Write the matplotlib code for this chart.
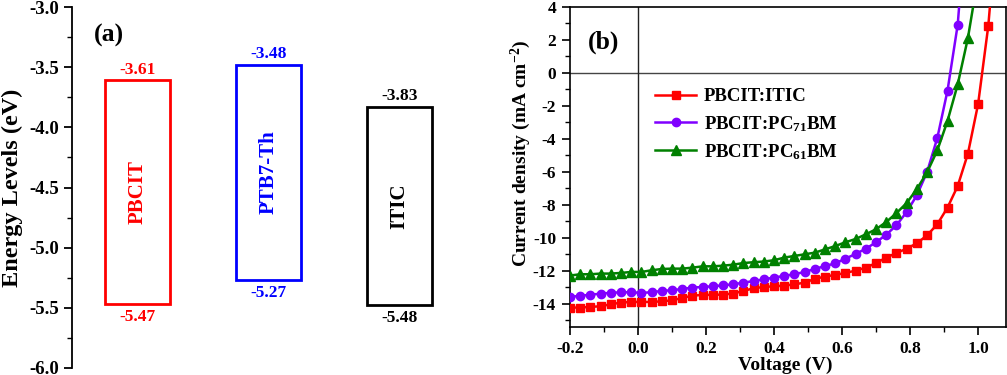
import matplotlib
matplotlib.use("Agg")
import matplotlib.pyplot as plt
from matplotlib.ticker import MultipleLocator, FormatStrFormatter

plt.rcParams['font.family'] = ['Liberation Serif', 'DejaVu Serif']
plt.rcParams['font.weight'] = 'bold'
plt.rcParams['axes.unicode_minus'] = False
plt.rcParams['mathtext.fontset'] = 'custom'
plt.rcParams['mathtext.rm'] = 'Liberation Serif:bold'
plt.rcParams['mathtext.it'] = 'Liberation Serif:bold:italic'
plt.rcParams['mathtext.bf'] = 'Liberation Serif:bold'
plt.rcParams['mathtext.default'] = 'rm'

# ---------------- data: panel (a) ----------------
materials = ['PBCIT', 'PTB7-Th', 'ITIC']
lumo = [-3.61, -3.48, -3.83]
homo = [-5.47, -5.27, -5.48]
box_colors = ['#ff0000', '#0000ff', '#000000']

# ---------------- data: panel (b) ----------------
voltage = [-0.20, -0.17, -0.14, -0.11, -0.08, -0.05, -0.02, 0.01, 0.04, 0.07,
           0.10, 0.13, 0.16, 0.19, 0.22, 0.25, 0.28, 0.31, 0.34, 0.37,
           0.40, 0.43, 0.46, 0.49, 0.52, 0.55, 0.58, 0.61, 0.64, 0.67,
           0.70, 0.73, 0.76, 0.79, 0.82, 0.85, 0.88, 0.91, 0.94, 0.97,
           1.00, 1.03]
j_itic = [-14.24, -14.24, -14.20, -14.16, -14.04, -13.94, -13.90, -13.90, -13.90, -13.86,
          -13.80, -13.66, -13.52, -13.47, -13.47, -13.45, -13.39, -13.23, -13.07, -12.99,
          -12.95, -12.91, -12.83, -12.73, -12.50, -12.36, -12.26, -12.14, -12.00, -11.82,
          -11.54, -11.21, -10.93, -10.67, -10.34, -9.86, -9.19, -8.18, -6.87, -4.91,
          -1.90, 2.85]
j_pc71 = [-13.60, -13.52, -13.47, -13.39, -13.35, -13.31, -13.31, -13.35, -13.31, -13.23,
          -13.19, -13.11, -13.03, -12.99, -12.95, -12.89, -12.83, -12.73, -12.63, -12.53,
          -12.42, -12.32, -12.22, -12.08, -11.90, -11.72, -11.56, -11.27, -10.99, -10.67,
          -10.28, -9.82, -9.25, -8.44, -7.43, -6.02, -3.96, -1.09, 2.91]
j_pc61 = [-12.30, -12.22, -12.22, -12.18, -12.18, -12.14, -12.08, -12.08, -11.98, -11.90,
          -11.88, -11.88, -11.82, -11.74, -11.74, -11.70, -11.64, -11.54, -11.49, -11.45,
          -11.37, -11.21, -11.11, -11.01, -10.91, -10.71, -10.51, -10.28, -10.08, -9.80,
          -9.49, -9.05, -8.51, -7.90, -7.05, -6.04, -4.71, -2.93, -0.71, 2.10]
# line continuation beyond the last marker (leaves the top of the plot)
tail_itic = (1.040, 5.3)
tail_pc71 = (0.948, 5.0)
tail_pc61 = (0.995, 5.2)
labels_b = ['PBCIT:ITIC', 'PBCIT:PC$_{71}$BM', 'PBCIT:PC$_{61}$BM']
colors_b = ['#ff0000', '#8000ff', '#008000']
markers_b = ['s', 'o', '^']

W, H = 1007, 375
fig = plt.figure(figsize=(W / 100, H / 100), dpi=100)

# ================= panel (a) =================
axa = fig.add_axes([72 / W, 1 - 368 / H, (465 - 72) / W, (368 - 7) / H])
xs = [1, 2, 3]
for x, m, lu, ho, c in zip(xs, materials, lumo, homo, box_colors):
    axa.bar(x, lu - ho, bottom=ho, width=0.5, fill=False, edgecolor=c, linewidth=2)
    axa.annotate(f'{lu:.2f}', (x, lu), xytext=(0, 2), textcoords='offset points',
                 ha='center', va='bottom', color=c, fontsize=12.5, fontweight='bold')
    axa.annotate(f'{ho:.2f}', (x, ho), xytext=(0, -3.5), textcoords='offset points',
                 ha='center', va='top', color=c, fontsize=12.5, fontweight='bold')
    axa.text(x, (lu + ho) / 2, m, rotation=90, ha='center', va='center',
             color=c, fontsize=15, fontweight='bold')

axa.set_xlim(0.5, 3.5)
axa.set_ylim(-6.0, -3.0)
axa.yaxis.set_major_locator(MultipleLocator(0.5))
axa.yaxis.set_minor_locator(MultipleLocator(0.25))
axa.yaxis.set_major_formatter(FormatStrFormatter('%.1f'))
for s in ['top', 'right', 'bottom']:
    axa.spines[s].set_visible(False)
axa.spines['left'].set_linewidth(1.3)
axa.set_xticks([])
axa.tick_params(axis='y', which='major', direction='out', length=6, width=1.3,
                labelsize=13.5, pad=3)
axa.tick_params(axis='y', which='minor', direction='out', length=3.5, width=1.0)
for lab in axa.get_yticklabels():
    lab.set_fontweight('bold')
axa.set_ylabel('Energy Levels (eV)', fontsize=17.5, fontweight='bold')
axa.yaxis.set_label_coords(-0.125, 0.5)
axa.text(0.055, 0.922, '(a)', transform=axa.transAxes, fontsize=18.5,
         fontweight='bold', ha='left', va='center')

# ================= panel (b) =================
axb = fig.add_axes([570 / W, 1 - 326.7 / H, (1006 - 570) / W, (326.7 - 6.7) / H])
axb.axhline(0, color='#444444', lw=1.0, zorder=1)
axb.axvline(0, color='#222222', lw=1.0, zorder=1)

for J, tail, lab, c, mk in zip([j_itic, j_pc71, j_pc61], [tail_itic, tail_pc71, tail_pc61],
                               labels_b, colors_b, markers_b):
    n = len(J)
    xx = voltage[:n] + [tail[0]]
    yy = J + [tail[1]]
    ms = 6.8 if mk == '^' else 6.0
    axb.plot(xx, yy, '-', color=c, lw=1.8, marker=mk, markersize=ms,
             markevery=list(range(n)), label=lab, zorder=3)

axb.set_xlim(-0.2, 1.082)
axb.set_ylim(-15.4, 4)
axb.xaxis.set_major_locator(MultipleLocator(0.2))
axb.xaxis.set_minor_locator(MultipleLocator(0.1))
axb.yaxis.set_major_locator(MultipleLocator(2))
axb.yaxis.set_minor_locator(MultipleLocator(1))
axb.xaxis.set_major_formatter(FormatStrFormatter('%.1f'))
for s in axb.spines.values():
    s.set_linewidth(1.2)
axb.tick_params(which='major', direction='out', length=6, width=1.2, labelsize=12.5, pad=4)
axb.tick_params(which='minor', direction='out', length=3.5, width=1.0)
for lab in axb.get_xticklabels() + axb.get_yticklabels():
    lab.set_fontweight('bold')
axb.set_xlabel('Voltage (V)', fontsize=14, fontweight='bold')
axb.xaxis.set_label_coords(0.493, -0.095)
axb.set_ylabel('Current density (mA cm$^{-2}$)', fontsize=14, fontweight='bold')
axb.yaxis.set_label_coords(-0.085, 0.54)
axb.text(0.04, 0.89, '(b)', transform=axb.transAxes, fontsize=18.5,
         fontweight='bold', ha='left', va='center')

leg = axb.legend(loc='upper left', bbox_to_anchor=(0.195, 0.745), frameon=False,
                 prop={'family': 'Liberation Serif', 'weight': 'bold', 'size': 13.5},
                 handlelength=2.2, handletextpad=0.4, labelspacing=0.45,
                 borderaxespad=0, borderpad=0)

fig.savefig('out.png', dpi=100)
